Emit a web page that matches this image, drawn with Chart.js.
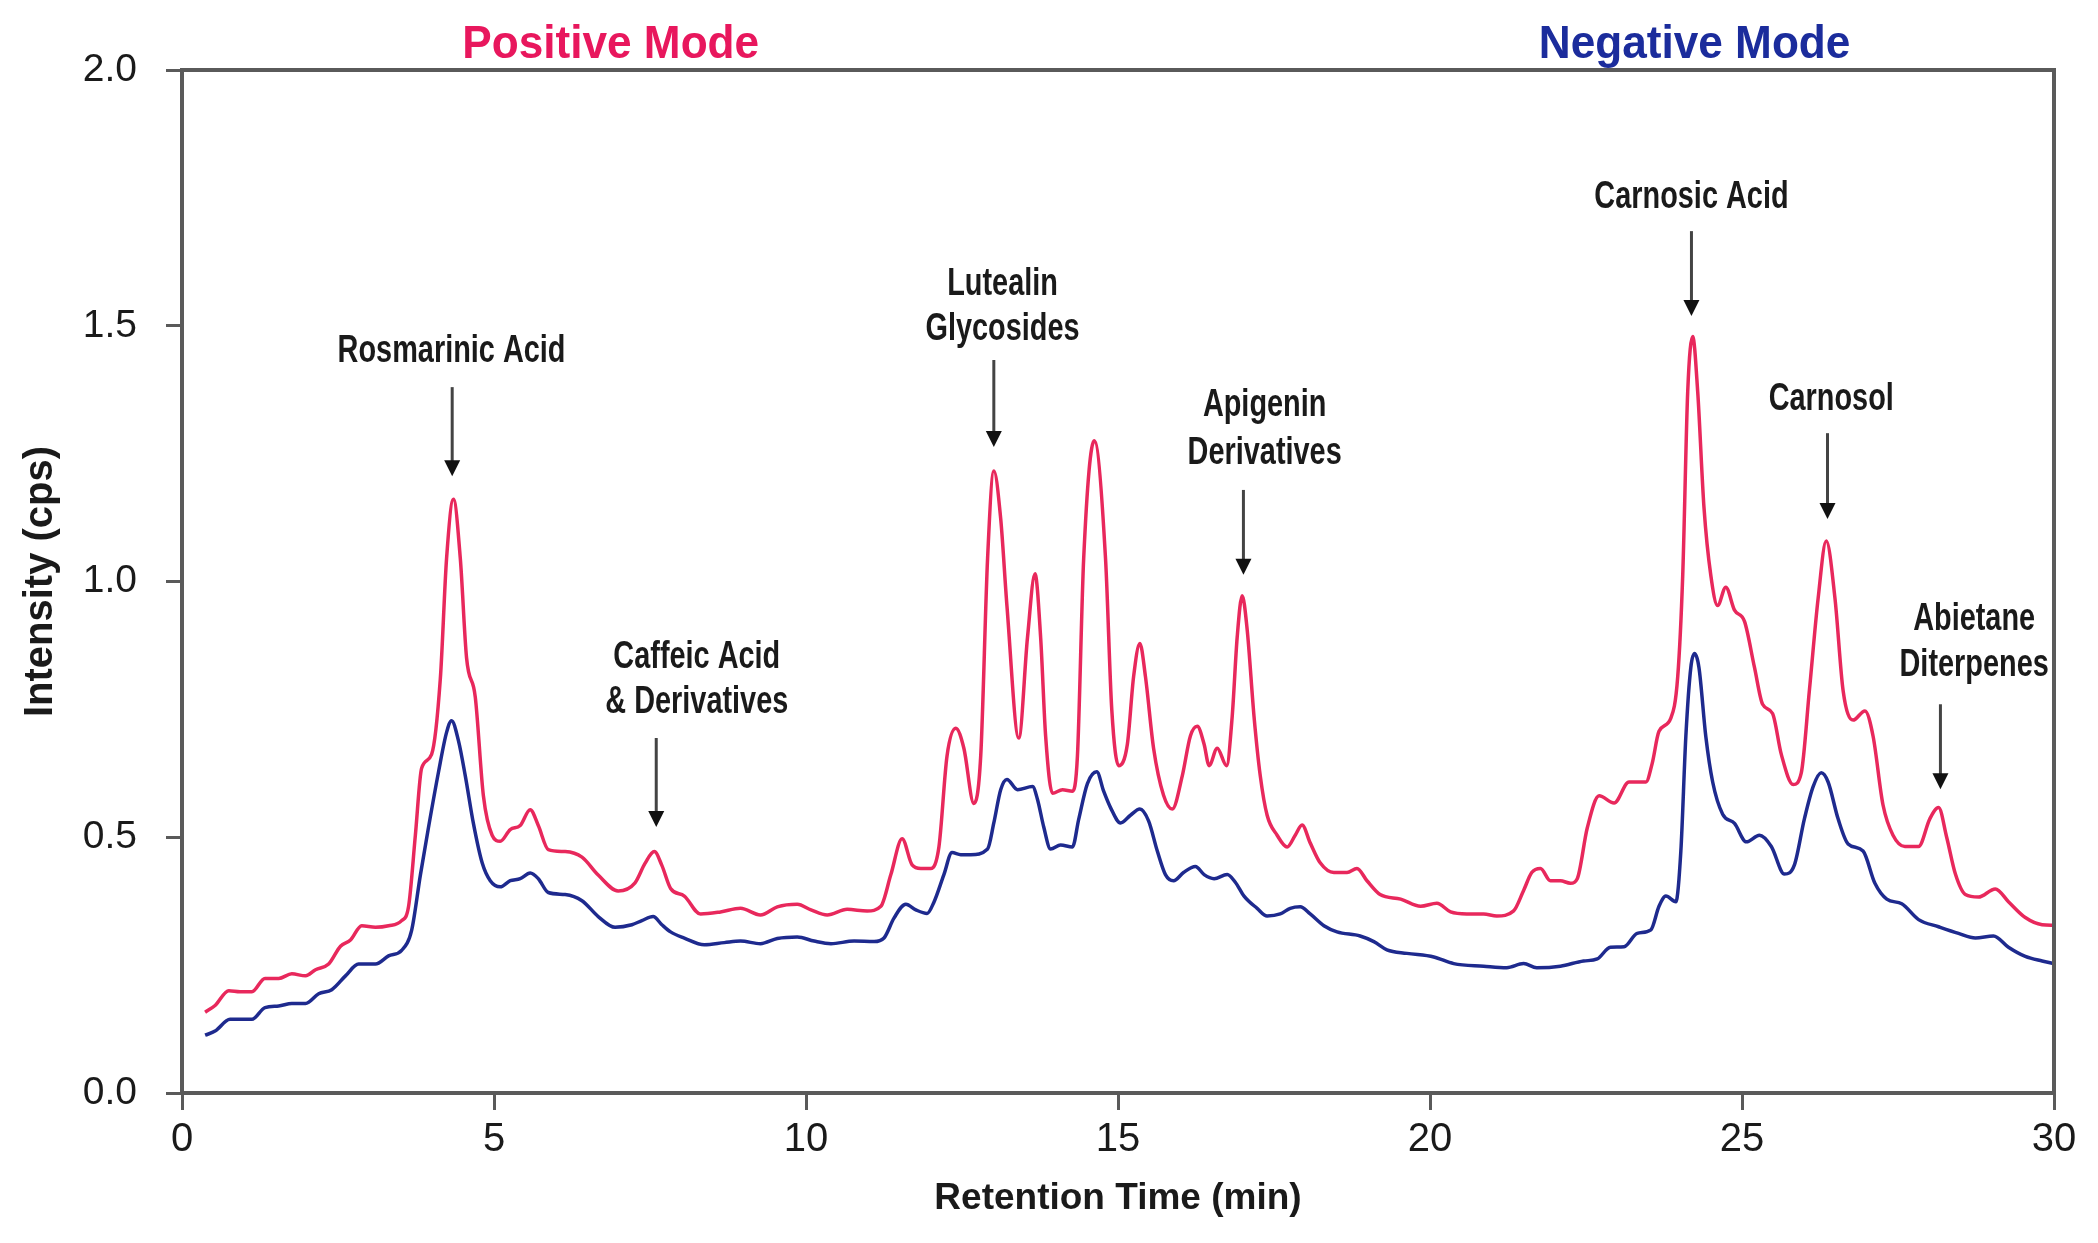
<!DOCTYPE html>
<html>
<head>
<meta charset="utf-8">
<title>Rosemary extract chromatogram</title>
<script src="https://cdn.jsdelivr.net/npm/chart.js@4.4.1/dist/chart.umd.min.js"></script>
<style>
  html, body { margin: 0; padding: 0; background: #fff; }
  #wrap { width: 2098px; height: 1243px; }
</style>
</head>
<body>
<div id="wrap"><canvas id="chroma" width="2098" height="1243"></canvas></div>
<script>
// retention time (min) and intensity (cps)
var posTime = [0.37,0.53,0.75,0.93,1.12,1.33,1.55,1.76,1.98,2.14,2.35,2.54,2.70,2.88,3.10,3.31,3.52,3.63,3.74,3.84,
  4.00,4.14,4.24,4.35,4.46,4.56,4.70,4.83,4.97,5.10,5.26,5.42,5.58,5.71,5.87,6.14,6.41,6.67,6.99,7.26,
  7.42,7.57,7.69,7.83,8.05,8.31,8.63,8.95,9.27,9.54,9.86,10.08,10.34,10.66,10.98,11.20,11.36,11.54,11.70,11.84,
  12.00,12.13,12.26,12.40,12.53,12.69,12.80,12.91,13.01,13.12,13.22,13.41,13.55,13.67,13.76,13.84,13.95,14.11,14.27,14.35,
  14.45,14.62,14.80,14.90,15.01,15.15,15.25,15.35,15.44,15.57,15.73,15.87,16.03,16.16,16.27,16.38,16.46,16.59,16.74,16.83,
  16.91,16.99,17.07,17.18,17.28,17.39,17.55,17.71,17.84,17.95,18.08,18.24,18.46,18.67,18.83,18.99,19.20,19.53,19.85,20.11,
  20.33,20.59,20.86,21.07,21.34,21.50,21.63,21.77,21.93,22.09,22.25,22.36,22.52,22.71,22.95,23.19,23.46,23.56,23.67,23.86,
  23.97,24.05,24.13,24.21,24.29,24.39,24.50,24.61,24.74,24.88,25.04,25.20,25.33,25.49,25.63,25.82,25.95,26.08,26.22,26.35,
  26.49,26.62,26.78,26.97,27.10,27.26,27.42,27.61,27.83,28.01,28.15,28.28,28.42,28.58,28.79,29.06,29.27,29.54,29.81,30.00];
var posIntensity = [0.158,0.171,0.200,0.198,0.198,0.224,0.224,0.233,0.229,0.241,0.252,0.287,0.299,0.327,0.324,0.327,0.337,0.364,0.504,0.635,
  0.662,0.810,1.045,1.161,1.045,0.851,0.774,0.581,0.504,0.492,0.515,0.523,0.554,0.523,0.476,0.472,0.461,0.426,0.395,0.411,
  0.449,0.472,0.445,0.400,0.385,0.350,0.354,0.361,0.348,0.364,0.369,0.358,0.348,0.359,0.356,0.365,0.427,0.497,0.446,0.439,
  0.439,0.481,0.659,0.713,0.674,0.566,0.659,1.045,1.216,1.123,0.953,0.694,0.891,1.015,0.891,0.698,0.586,0.593,0.590,0.659,
  1.045,1.275,1.045,0.750,0.640,0.682,0.814,0.879,0.814,0.674,0.582,0.555,0.620,0.698,0.717,0.682,0.640,0.674,0.640,0.736,
  0.891,0.972,0.906,0.736,0.620,0.543,0.504,0.481,0.504,0.524,0.489,0.450,0.431,0.431,0.439,0.415,0.388,0.379,0.365,0.371,
  0.354,0.350,0.350,0.346,0.356,0.396,0.431,0.439,0.415,0.415,0.410,0.419,0.518,0.581,0.567,0.608,0.608,0.644,0.707,0.733,
  0.814,1.012,1.371,1.479,1.371,1.146,1.012,0.953,0.989,0.944,0.922,0.832,0.760,0.742,0.662,0.603,0.626,0.787,0.967,1.079,
  0.967,0.787,0.729,0.747,0.698,0.563,0.504,0.482,0.482,0.536,0.558,0.500,0.428,0.388,0.383,0.399,0.374,0.343,0.329,0.328];

var negTime = [0.37,0.53,0.77,0.93,1.12,1.33,1.55,1.76,1.98,2.19,2.40,2.62,2.83,3.10,3.31,3.52,3.68,3.82,3.95,4.11,
  4.24,4.32,4.43,4.54,4.67,4.81,4.94,5.10,5.26,5.42,5.58,5.71,5.87,6.14,6.41,6.67,6.94,7.21,7.37,7.55,
  7.69,7.83,8.05,8.37,8.69,8.95,9.27,9.54,9.86,10.13,10.40,10.77,11.09,11.25,11.41,11.60,11.76,11.94,12.05,12.21,
  12.34,12.48,12.64,12.91,13.01,13.12,13.22,13.39,13.63,13.71,13.81,13.92,14.08,14.27,14.37,14.51,14.66,14.77,14.88,15.04,
  15.20,15.35,15.49,15.63,15.76,15.89,16.05,16.24,16.38,16.54,16.75,16.88,17.02,17.23,17.39,17.60,17.76,17.92,18.08,18.30,
  18.51,18.88,19.10,19.31,19.63,20.06,20.38,20.86,21.23,21.50,21.71,22.09,22.46,22.68,22.89,23.11,23.32,23.54,23.67,23.78,
  23.94,24.02,24.10,24.18,24.24,24.31,24.42,24.53,24.69,24.88,25.07,25.28,25.47,25.68,25.84,26.00,26.14,26.27,26.38,26.54,
  26.70,26.94,27.13,27.32,27.56,27.83,28.15,28.47,28.74,29.03,29.27,29.54,29.81,30.00];
var negIntensity = [0.113,0.121,0.144,0.144,0.144,0.167,0.170,0.175,0.175,0.194,0.202,0.229,0.252,0.252,0.268,0.279,0.318,0.426,0.519,0.627,
  0.705,0.728,0.689,0.620,0.527,0.450,0.415,0.403,0.415,0.419,0.430,0.419,0.392,0.388,0.376,0.345,0.324,0.329,0.337,0.345,
  0.329,0.315,0.303,0.290,0.294,0.297,0.292,0.302,0.305,0.297,0.292,0.297,0.296,0.303,0.342,0.369,0.358,0.351,0.373,0.427,
  0.470,0.466,0.466,0.477,0.528,0.593,0.613,0.593,0.599,0.574,0.520,0.477,0.485,0.481,0.535,0.605,0.628,0.590,0.558,0.528,
  0.543,0.555,0.532,0.473,0.427,0.415,0.431,0.443,0.427,0.419,0.427,0.412,0.385,0.361,0.346,0.350,0.361,0.364,0.350,0.327,
  0.315,0.307,0.296,0.280,0.273,0.266,0.253,0.248,0.245,0.253,0.245,0.248,0.258,0.262,0.285,0.286,0.312,0.319,0.365,0.385,
  0.374,0.473,0.697,0.832,0.859,0.832,0.697,0.608,0.545,0.527,0.491,0.504,0.482,0.428,0.446,0.536,0.599,0.626,0.608,0.536,
  0.487,0.473,0.410,0.379,0.370,0.339,0.325,0.312,0.303,0.307,0.285,0.267,0.258,0.253];

var xTicks = [0, 5, 10, 15, 20, 25, 30];
var yTicks = [0.0, 0.5, 1.0, 1.5, 2.0];

// peak labels
var peakNames = [["Rosmarinic Acid"], ["Caffeic Acid", "& Derivatives"], ["Lutealin", "Glycosides"],
  ["Apigenin", "Derivatives"], ["Carnosic Acid"], ["Carnosol"], ["Abietane", "Diterpenes"]];
var peakTimes = [4.33, 7.60, 13.01, 17.01, 24.19, 26.37, 28.18];

// where the label text and arrow of each peak sit (minutes / cps)
var labelSpots = [
  { tx: 4.32,  base: [1.429],        top: 1.380, tip: 1.206 },
  { tx: 8.25,  base: [0.831, 0.743], top: 0.694, tip: 0.520 },
  { tx: 13.15, base: [1.560, 1.472], top: 1.433, tip: 1.263 },
  { tx: 17.35, base: [1.324, 1.230], top: 1.179, tip: 1.013 },
  { tx: 24.19, base: [1.730],        top: 1.685, tip: 1.519 },
  { tx: 26.43, base: [1.335],        top: 1.290, tip: 1.122 },
  { tx: 28.72, base: [0.905, 0.815], top: 0.760, tip: 0.594 }
];

var modeTitles = [
  { text: "Positive Mode", x: 6.87,  color: "#e8175d" },
  { text: "Negative Mode", x: 24.24, color: "#1b2c9c" }
];

var toPoints = function(xs, ys) {
  var pts = [];
  for (var i = 0; i < xs.length; i++) {
    pts.push({ x: xs[i], y: ys[i] });
  }
  return pts;
};

var axisGray = "#5a5a5a";
var fontFam = "'Liberation Sans', Arial, sans-serif";

var boxPlugin = {
  id: "boxLines",
  afterDatasetsDraw: function(chart) {
    var a = chart.chartArea, ctx = chart.ctx;
    ctx.save();
    ctx.strokeStyle = axisGray;
    ctx.lineWidth = 4;
    ctx.beginPath();
    ctx.moveTo(a.left, a.top);
    ctx.lineTo(a.right, a.top);
    ctx.lineTo(a.right, a.bottom);
    ctx.stroke();
    ctx.restore();
  }
};

var labelPlugin = {
  id: "peakLabels",
  afterDraw: function(chart) {
    var ctx = chart.ctx, xs = chart.scales.x, ys = chart.scales.y;
    ctx.save();
    ctx.textAlign = "center";
    ctx.textBaseline = "alphabetic";

    for (var i = 0; i < peakNames.length; i++) {
      var spot = labelSpots[i];
      var px = xs.getPixelForValue(spot.tx);
      ctx.fillStyle = "#1a1a1a";
      ctx.font = "bold 38px " + fontFam;
      for (var j = 0; j < peakNames[i].length; j++) {
        ctx.save();
        ctx.translate(px, ys.getPixelForValue(spot.base[j]));
        ctx.scale(0.76, 1);
        ctx.fillText(peakNames[i][j], 0, 0);
        ctx.restore();
      }
      // arrow
      var ax = xs.getPixelForValue(peakTimes[i]);
      var y0 = ys.getPixelForValue(spot.top);
      var y1 = ys.getPixelForValue(spot.tip);
      ctx.strokeStyle = "#444";
      ctx.lineWidth = 3;
      ctx.beginPath();
      ctx.moveTo(ax, y0);
      ctx.lineTo(ax, y1 - 12);
      ctx.stroke();
      ctx.fillStyle = "#111";
      ctx.beginPath();
      ctx.moveTo(ax - 8, y1 - 16);
      ctx.lineTo(ax + 8, y1 - 16);
      ctx.lineTo(ax, y1);
      ctx.closePath();
      ctx.fill();
    }

    ctx.font = "bold 46px " + fontFam;
    for (var k = 0; k < modeTitles.length; k++) {
      ctx.save();
      ctx.fillStyle = modeTitles[k].color;
      ctx.translate(xs.getPixelForValue(modeTitles[k].x), 58);
      ctx.scale(0.96, 1);
      ctx.fillText(modeTitles[k].text, 0, 0);
      ctx.restore();
    }
    ctx.restore();
  }
};

var ctx = document.getElementById("chroma");
var chart = new Chart(ctx, {
  type: "line",
  data: {
    datasets: [
      {
        label: "Positive Mode",
        data: toPoints(posTime, posIntensity),
        borderColor: "#e8285c",
        borderWidth: 3.5,
        fill: false,
        pointRadius: 0,
        cubicInterpolationMode: "monotone"
      },
      {
        label: "Negative Mode",
        data: toPoints(negTime, negIntensity),
        borderColor: "#1e2a8e",
        borderWidth: 3.5,
        fill: false,
        pointRadius: 0,
        cubicInterpolationMode: "monotone"
      }
    ]
  },
  options: {
    responsive: false,
    animation: false,
    devicePixelRatio: 1,
    layout: { padding: { left: 0, top: 70, right: 44, bottom: 0 } },
    plugins: {
      legend: { display: false },
      tooltip: { enabled: false }
    },
    scales: {
      x: {
        type: "linear",
        min: 0,
        max: 30,
        afterFit: function(scale) { scale.height = 150; },
        afterBuildTicks: function(scale) {
          scale.ticks = xTicks.map(function(v) { return { value: v }; });
        },
        ticks: {
          color: "#1a1a1a",
          padding: 6,
          maxRotation: 0,
          font: { family: fontFam, size: 40 },
          callback: function(v) { return String(v); }
        },
        grid: { display: true, drawOnChartArea: false, drawTicks: true, tickLength: 17, color: axisGray, lineWidth: 3 },
        border: { display: true, color: axisGray, width: 4 },
        title: {
          display: true,
          text: "Retention Time (min)",
          color: "#1a1a1a",
          font: { family: fontFam, size: 37, weight: "bold" },
          padding: { top: 0, bottom: 22 }
        }
      },
      y: {
        type: "linear",
        min: 0,
        max: 2,
        afterFit: function(scale) { scale.width = 182; },
        afterBuildTicks: function(scale) {
          scale.ticks = yTicks.map(function(v) { return { value: v }; });
        },
        ticks: {
          color: "#1a1a1a",
          padding: 29,
          font: { family: fontFam, size: 39 },
          callback: function(v) { return Number(v).toFixed(1); }
        },
        grid: { display: true, drawOnChartArea: false, drawTicks: true, tickLength: 16, color: axisGray, lineWidth: 3 },
        border: { display: true, color: axisGray, width: 4 },
        title: {
          display: true,
          text: "Intensity (cps)",
          color: "#1a1a1a",
          font: { family: fontFam, size: 40, weight: "bold" },
          padding: { top: 17, bottom: 0 }
        }
      }
    }
  },
  plugins: [boxPlugin, labelPlugin]
});
</script>
</body>
</html>
